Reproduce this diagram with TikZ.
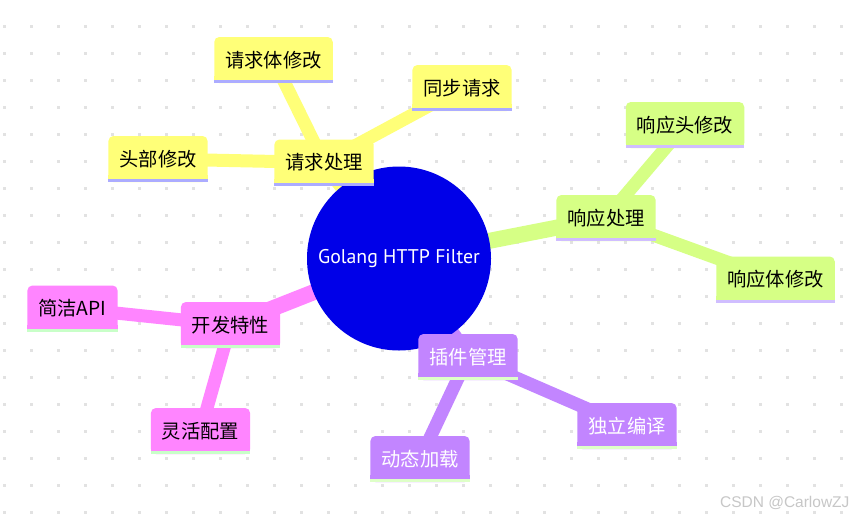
\documentclass[tikz,border=0pt]{standalone}
\usepackage{fontspec}
\setmainfont{Noto Sans CJK SC}
\newfontfamily\rootfont{PT Sans}
\newfontfamily\markfont{Liberation Sans}
\usepackage{xcolor}
\usetikzlibrary{backgrounds}

\definecolor{rootblue}{RGB}{0,0,232}
\definecolor{yel}{RGB}{255,255,120}
\definecolor{yelline}{RGB}{172,172,255}
\definecolor{grn}{RGB}{214,255,133}
\definecolor{grnline}{RGB}{208,190,255}
\definecolor{pnk}{RGB}{255,133,255}
\definecolor{pnkline}{RGB}{200,255,200}
\definecolor{prp}{RGB}{194,133,255}
\definecolor{prpline}{RGB}{222,255,200}
\definecolor{dotgray}{RGB}{226,226,226}

\begin{document}
\begin{tikzpicture}[
    x=1pt,y=-1pt,
    topic/.style={rectangle,rounded corners=5pt,inner xsep=11pt,inner ysep=0pt,
      minimum height=46pt,font=\fontsize{19.3}{22}\selectfont},
    request/.style={topic,fill=yel},
    response/.style={topic,fill=grn},
    devel/.style={topic,fill=pnk},
    plugin/.style={topic,fill=prp,text=white},
    trunk/.style={line width=16pt},
    twig/.style={line width=13pt}
]
\useasboundingbox (0,0) rectangle (853,520);

\node[circle,fill=rootblue,minimum size=184pt,text=white,
  font=\rootfont\fontsize{19.8}{22}\selectfont] (root) at (399,258.5)
  {Golang HTTP Filter};

\node[request]  (req)      at (324,162.5) {请求处理};
\node[request]  (reqbody)  at (273.5,60)  {请求体修改};
\node[request]  (sync)     at (462,88)    {同步请求};
\node[request]  (header)   at (158,159)   {头部修改};

\node[response] (resp)     at (606,218)   {响应处理};
\node[response] (resphead) at (685,125)   {响应头修改};
\node[response] (respbody) at (775.5,279.5) {响应体修改};

\node[devel]    (dev)      at (230.5,325) {开发特性};
\node[devel]    (api)      at (72.5,308.5) {简洁API};
\node[devel]    (conf)     at (200.5,431) {灵活配置};

\node[plugin]   (plug)     at (468,357)   {插件管理};
\node[plugin]   (compile)  at (627,426)   {独立编译};
\node[plugin]   (load)     at (420,459)   {动态加载};

% square bottom edge with coloured stripe
\foreach \n/\c/\s in {req/yel/yelline,reqbody/yel/yelline,sync/yel/yelline,
    header/yel/yelline,resp/grn/grnline,resphead/grn/grnline,
    respbody/grn/grnline,dev/pnk/pnkline,api/pnk/pnkline,conf/pnk/pnkline,
    plug/prp/prpline,compile/prp/prpline,load/prp/prpline}{
  \fill[\c] ([yshift=7pt]\n.south west) rectangle (\n.south east);
  \fill[\s] ([yshift=3pt]\n.south west) rectangle (\n.south east);
}

\node[font=\markfont\fontsize{15.5}{18}\selectfont,text=black!22,anchor=east]
  (mark) at (853,503) {CSDN @CarlowZJ};

\begin{scope}[on background layer]
  \fill[white] (0,0) rectangle (853,520);
  \foreach \x in {4,31,...,853}
    \foreach \y in {26,53,...,520}
      \fill[dotgray] (\x-1,\y-1) rectangle ++(2.5,2.5);

  \draw[trunk,yel] (root.center) -- (req.center);
  \draw[twig,yel] (req.center) -- (reqbody.center);
  \draw[twig,yel] (req.center) -- (sync.center);
  \draw[twig,yel] (req.center) -- (header.center);

  \draw[trunk,grn] (root.center) -- (resp.center);
  \draw[twig,grn] (resp.center) -- (resphead.center);
  \draw[twig,grn] (resp.center) -- (respbody.center);

  \draw[trunk,pnk] (root.center) -- (dev.center);
  \draw[twig,pnk] (dev.center) -- (api.center);
  \draw[twig,pnk] (dev.center) -- (conf.center);

  \draw[trunk,prp] (root.center) -- (plug.center);
  \draw[twig,prp] (plug.center) -- (compile.center);
  \draw[twig,prp] (plug.center) -- (load.center);
\end{scope}
\end{tikzpicture}
\end{document}
